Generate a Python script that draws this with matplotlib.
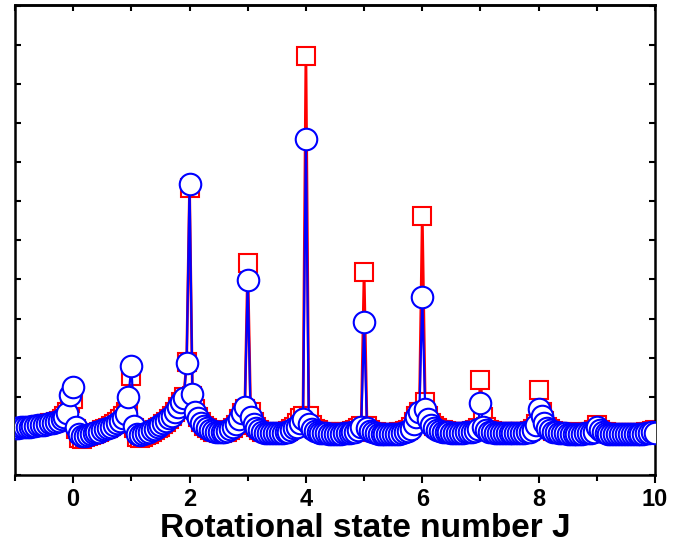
import matplotlib
matplotlib.use("Agg")
import matplotlib.pyplot as plt
import numpy as np
from matplotlib.ticker import MultipleLocator

plt.rcParams['font.family'] = ['Liberation Sans', 'DejaVu Sans']

# J sampling grid, 0.05 step from -1 to 10
J_grid = np.linspace(-1.0, 10.0, 221)

# squares (red): one row per unit of J, last value at J = 10
red_vals = [
    1.18, 1.19, 1.20, 1.21, 1.22, 1.23, 1.24, 1.25, 1.26, 1.27, 1.29, 1.30, 1.32, 1.34, 1.36, 1.39, 1.43, 1.50, 1.62, 1.85,
    1.95, 1.18, 0.95, 0.92, 0.96, 0.99, 1.02, 1.05, 1.08, 1.11, 1.14, 1.17, 1.21, 1.25, 1.30, 1.35, 1.42, 1.50, 1.62, 1.85,
    2.53, 1.20, 0.98, 0.95, 0.98, 1.02, 1.06, 1.10, 1.14, 1.19, 1.24, 1.30, 1.36, 1.43, 1.51, 1.61, 1.73, 1.86, 2.00, 2.89,
    7.34, 2.02, 1.68, 1.48, 1.35, 1.26, 1.19, 1.14, 1.11, 1.09, 1.08, 1.08, 1.09, 1.11, 1.15, 1.21, 1.29, 1.42, 1.58, 1.70,
    5.42, 1.62, 1.35, 1.22, 1.15, 1.11, 1.09, 1.08, 1.08, 1.08, 1.08, 1.09, 1.10, 1.11, 1.13, 1.17, 1.23, 1.32, 1.45, 1.50,
    10.72, 1.50, 1.28, 1.18, 1.14, 1.11, 1.10, 1.09, 1.09, 1.08, 1.08, 1.08, 1.09, 1.09, 1.10, 1.11, 1.13, 1.15, 1.19, 1.25,
    5.19, 1.25, 1.15, 1.11, 1.09, 1.08, 1.08, 1.07, 1.07, 1.07, 1.07, 1.08, 1.09, 1.10, 1.12, 1.16, 1.23, 1.36, 1.52, 1.60,
    6.62, 1.87, 1.50, 1.34, 1.25, 1.19, 1.16, 1.14, 1.12, 1.11, 1.10, 1.10, 1.10, 1.10, 1.10, 1.10, 1.11, 1.12, 1.14, 1.20,
    2.43, 1.48, 1.22, 1.16, 1.13, 1.11, 1.10, 1.10, 1.09, 1.09, 1.09, 1.09, 1.09, 1.09, 1.10, 1.10, 1.11, 1.13, 1.18, 1.30,
    2.17, 1.60, 1.38, 1.24, 1.17, 1.13, 1.11, 1.10, 1.09, 1.09, 1.08, 1.08, 1.08, 1.08, 1.08, 1.08, 1.09, 1.09, 1.10, 1.14,
    1.28, 1.16, 1.11, 1.09, 1.08, 1.08, 1.07, 1.07, 1.07, 1.07, 1.07, 1.07, 1.07, 1.07, 1.07, 1.08, 1.08, 1.09, 1.10, 1.12,
    1.14,
]

# circles (blue)
blue_vals = [
    1.20, 1.21, 1.22, 1.22, 1.23, 1.24, 1.25, 1.26, 1.27, 1.28, 1.29, 1.31, 1.32, 1.34, 1.36, 1.38, 1.42, 1.48, 1.59, 2.04,
    2.24, 1.23, 1.05, 1.00, 1.01, 1.03, 1.05, 1.07, 1.09, 1.11, 1.14, 1.17, 1.20, 1.24, 1.28, 1.33, 1.39, 1.46, 1.57, 2.00,
    2.80, 1.25, 1.06, 1.02, 1.04, 1.07, 1.10, 1.14, 1.18, 1.22, 1.27, 1.32, 1.38, 1.45, 1.52, 1.62, 1.74, 1.86, 1.98, 2.86,
    7.44, 2.08, 1.62, 1.45, 1.33, 1.25, 1.19, 1.15, 1.12, 1.11, 1.10, 1.10, 1.11, 1.13, 1.17, 1.22, 1.30, 1.42, 1.58, 1.75,
    4.99, 1.48, 1.30, 1.20, 1.14, 1.10, 1.08, 1.07, 1.07, 1.07, 1.07, 1.07, 1.08, 1.09, 1.11, 1.14, 1.19, 1.24, 1.32, 1.42,
    8.59, 1.30, 1.18, 1.13, 1.10, 1.08, 1.07, 1.07, 1.06, 1.06, 1.06, 1.06, 1.06, 1.07, 1.07, 1.08, 1.09, 1.11, 1.15, 1.22,
    3.91, 1.20, 1.12, 1.09, 1.07, 1.06, 1.06, 1.05, 1.05, 1.05, 1.05, 1.05, 1.06, 1.07, 1.09, 1.12, 1.18, 1.30, 1.48, 1.62,
    4.55, 1.70, 1.42, 1.28, 1.20, 1.16, 1.13, 1.11, 1.10, 1.09, 1.08, 1.08, 1.08, 1.08, 1.08, 1.09, 1.09, 1.10, 1.12, 1.18,
    1.84, 1.22, 1.14, 1.11, 1.09, 1.08, 1.08, 1.07, 1.07, 1.07, 1.07, 1.07, 1.07, 1.07, 1.08, 1.08, 1.09, 1.11, 1.16, 1.28,
    1.70, 1.50, 1.33, 1.20, 1.14, 1.11, 1.09, 1.08, 1.07, 1.07, 1.06, 1.06, 1.06, 1.06, 1.06, 1.06, 1.07, 1.07, 1.08, 1.11,
    1.22, 1.14, 1.09, 1.07, 1.06, 1.06, 1.05, 1.05, 1.05, 1.05, 1.05, 1.05, 1.05, 1.05, 1.05, 1.06, 1.06, 1.07, 1.08, 1.10,
    1.08,
]

fig = plt.figure(figsize=(6.85, 5.44), dpi=100)
ax = fig.add_axes([15 / 685, 69 / 544, 640 / 685, 470 / 544])

ax.plot(J_grid, red_vals, color="red", lw=2.0, marker="s", ms=13.5,
        mfc="white", mec="red", mew=1.5, zorder=2)
ax.plot(J_grid, blue_vals, color="blue", lw=1.6, marker="o", ms=15.5,
        mfc="white", mec="blue", mew=1.5, zorder=3)

ax.set_xlim(-1, 10)
ax.set_ylim(0, 12.02)

ax.xaxis.set_major_locator(MultipleLocator(2))
ax.xaxis.set_minor_locator(MultipleLocator(1))
ax.yaxis.set_major_locator(MultipleLocator(1))

ax.tick_params(axis="x", which="major", direction="out", length=6, width=1.5,
               top=False, labelsize=17, pad=3)
ax.tick_params(axis="x", which="minor", direction="out", length=4, width=1.5, top=False)
ax.tick_params(axis="y", which="major", direction="in", length=4, width=1.5,
               left=True, right=True, labelleft=False)
for lab in ax.get_xticklabels():
    lab.set_fontweight("bold")

# inward ticks along the top at every integer J
top = ax.secondary_xaxis("top")
top.set_xticks(np.arange(-1, 11, 1))
top.tick_params(direction="in", length=4, width=1.5, labeltop=False)
top.spines["top"].set_linewidth(1.8)

for sp in ax.spines.values():
    sp.set_linewidth(1.8)

ax.set_xlabel("Rotational state number J", fontsize=24, fontweight="bold")
ax.xaxis.set_label_coords(0.548, -0.08)

fig.savefig("out.png", dpi=100)
